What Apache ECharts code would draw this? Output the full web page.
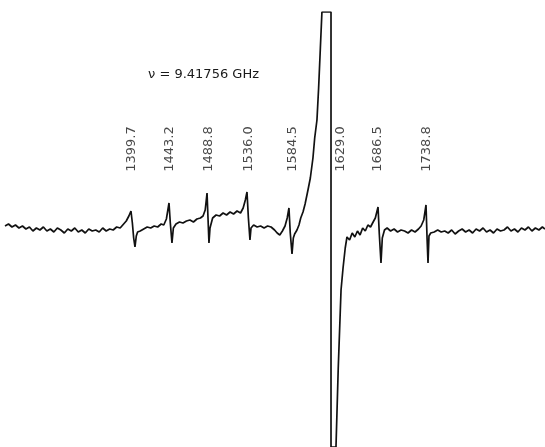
<!DOCTYPE html>
<html>
<head>
<meta charset="utf-8">
<script src="https://cdn.jsdelivr.net/npm/echarts@6/dist/echarts.min.js"></script>
<style>
html,body{margin:0;padding:0;background:#fff;}
#c{width:545px;height:447px;}
</style>
</head>
<body>
<div id="c"></div>
<script>
// Magnetic field (G) and EPR derivative signal (arbitrary units)
var field = [
1255,1259,1263,1267,1271,1275,1279,1283,1287,1291,1295,1299,1303,1307,1311,1315,1319,1323,1327,1331,
1335,1339,1343,1347,1351,1355,1359,1363,1367,1371,1375,1379,1383,1387,1391,1394,1397,1399.4,1401,1402.5,
1404,1405.5,1407,1410,1414,1418,1422,1426,1430,1434,1437,1440,1443.0,1444.5,1446.4,1448,1451,1455,1459,1463,
1467,1471,1475,1479,1482,1484.5,1486.6,1487.7,1488.8,1490,1493,1497,1501,1505,1509,1513,1517,1521,1525,1528,
1530.5,1532.4,1534,1535.8,1537,1540,1544,1548,1552,1556,1560,1564,1567,1570,1573,1576,1578.5,1580.5,1582,1584.0,
1585.5,1587,1589.7,1592,1594,1596.6,1599,1602.3,1605,1608,1610,1612.6,1614.5,1616.5,1618.3,1628.7,1628.7,1634.4,1637,1640.2,
1642.5,1645,1647,1650,1653,1656,1659,1662,1665,1668,1671,1674,1677,1679.5,1682.6,1684,1686.0,1687.5,1690,1693,
1697,1701,1705,1709,1713,1717,1721,1725,1729,1732,1735,1737.6,1738.8,1739.9,1741,1743,1747,1751,1755,1759,
1763,1767,1771,1775,1779,1783,1787,1791,1795,1799,1803,1807,1811,1815,1819,1823,1827,1831,1835,1839,
1843,1847,1851,1855,1859,1863,1867,1871,1874
];
var signal = [
2,4,1,3,0,2,-1,1,-3,0,-2,1,-3,-1,-4,0,-2,-5,-1,-3,
0,-4,-2,-5,-1,-3,-2,-4,0,-3,-1,-2,1,0,4,7,12,17,5,-10,
-19,-8,-4,-3,-1,1,0,2,1,4,3,9,25,5,-15,0,4,6,5,7,
8,6,9,10,12,18,35,10,-15,0,10,13,12,15,13,16,14,17,15,20,
28,36,10,-12,0,3,1,2,0,2,1,-2,-5,-7,-3,2,10,20,-5,-26,
-10,-6,-2,3,10,16,24,38,50,70,90,108,140,180,216,216,-219,-219,-140,-62,
-40,-20,-9,-12,-5,-9,-3,-7,0,-3,3,1,6,10,21,-5,-35,-10,-2,0,
-3,-1,-4,-2,-3,-5,-2,-4,-1,2,8,23,-10,-35,-8,-5,-4,-2,-4,-3,
-5,-2,-6,-3,-1,-4,-2,-5,-1,-3,0,-4,-2,-5,-1,-3,-2,1,-3,-1,
-4,0,-2,1,-3,0,-2,1,-1
];
// Line positions marked on the spectrum (G)
var lineLabels = ['1399.7','1443.2','1488.8','1536.0','1584.5','1629.0','1686.5','1738.8'];
var titleText = '\u03bd = 9.41756 GHz';

var traceData = field.map(function(f, i){ return [f, signal[i]]; });
var labelY = 79;
var labelData = lineLabels.map(function(s){
  var item = { value: [parseFloat(s), labelY], name: s };
  if (s === '1629.0') item.label = { offset: [0, 9] };
  if (s === '1686.5') item.label = { offset: [0, -4] };
  if (s === '1536.0') item.label = { offset: [0, -2] };
  return item;
});

var chart = echarts.init(document.getElementById('c'), null, {renderer: 'canvas'});
chart.setOption({
  backgroundColor: '#ffffff',
  animation: false,
  grid: { left: 5, right: 0, top: 12, bottom: 0 },
  xAxis: { type: 'value', min: 1255, max: 1874, show: false },
  yAxis: { type: 'value', min: -219, max: 216, show: false },
  graphic: [{
    type: 'text', left: 148, top: 68,
    style: { text: titleText, fontSize: 13, fontFamily: 'DejaVu Sans', fill: '#1a1a1a' }
  }],
  series: [{
    type: 'line',
    data: traceData,
    showSymbol: false,
    symbol: 'none',
    lineStyle: { color: '#111', width: 1.7 },
    clip: true
  }, {
    type: 'scatter',
    data: labelData,
    symbolSize: 1,
    itemStyle: { color: 'rgba(0,0,0,0)' },
    label: {
      show: true, position: 'inside', rotate: 90,
      formatter: function(p){ return p.name; },
      fontSize: 13, fontFamily: 'DejaVu Sans', color: '#1a1a1a'
    }
  }]
});
</script>
</body>
</html>
